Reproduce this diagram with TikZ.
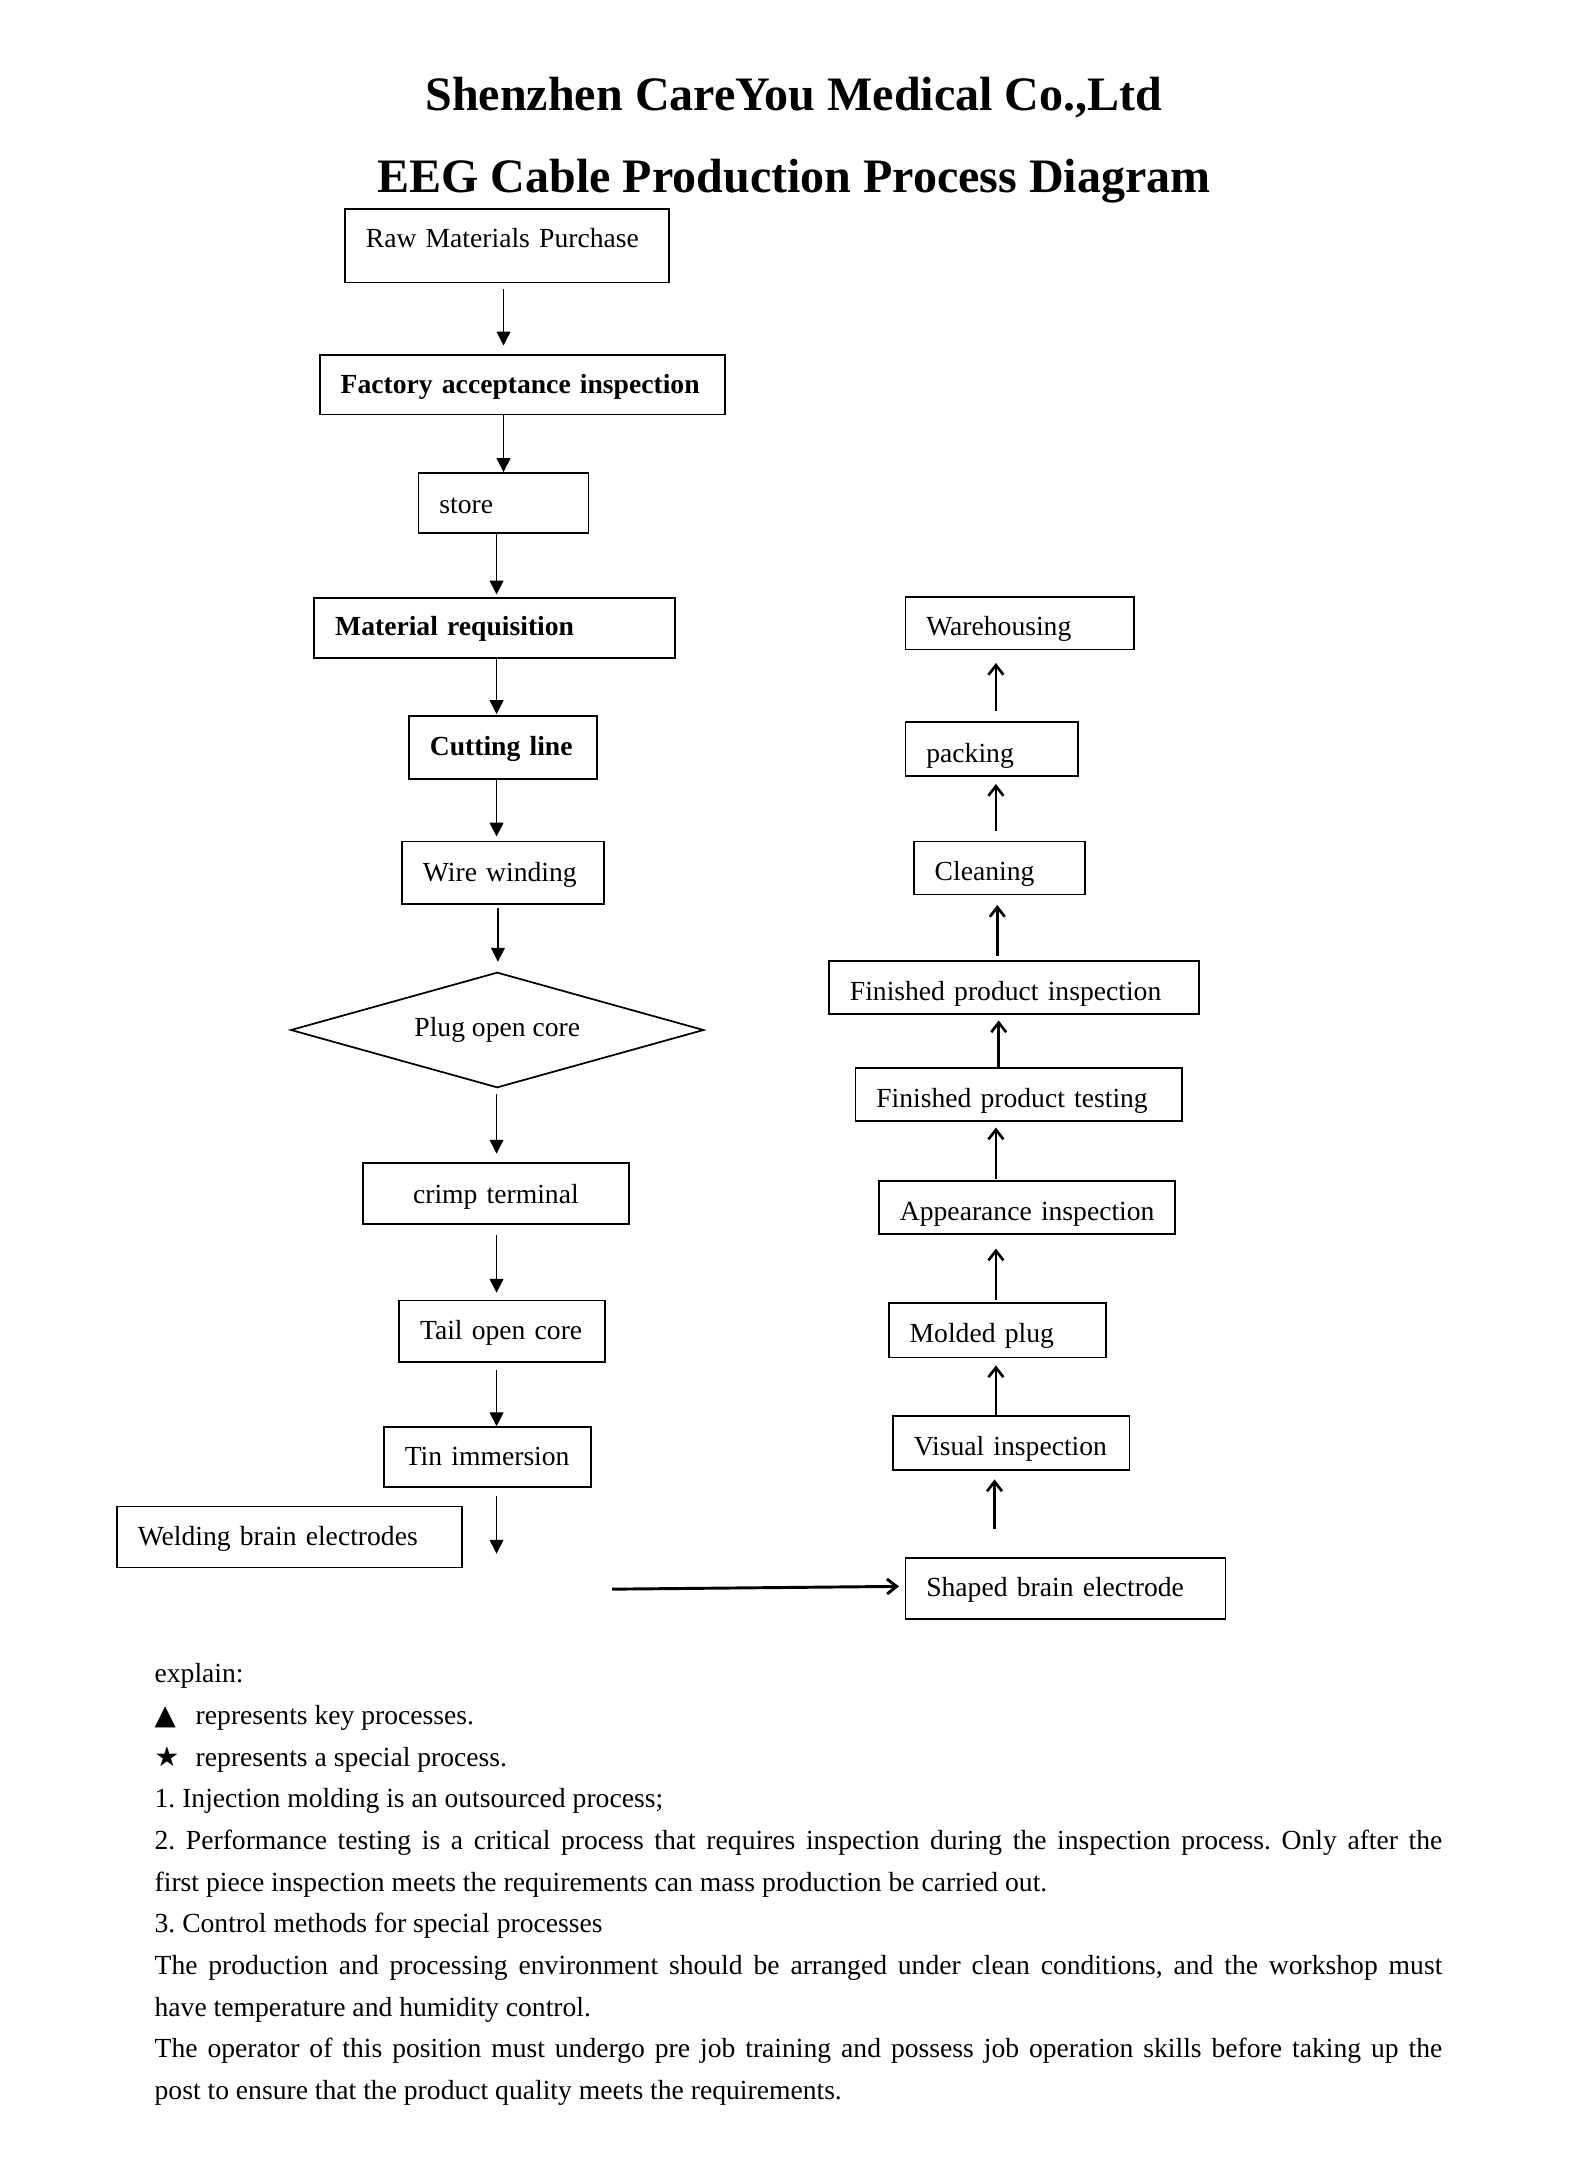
\documentclass[tikz,border=0pt]{standalone}
\usepackage{fontspec}
\setmainfont{Liberation Serif}
\newfontfamily\symfont{DejaVu Sans}
\usetikzlibrary{arrows.meta,shapes.geometric,calc}
\newcommand\bodyfnt{\fontsize{10.35pt}{12.4pt}\selectfont}
\newcommand\titlefnt{\fontsize{18pt}{21.6pt}\selectfont\bfseries}
\frenchspacing
\begin{document}
\frenchspacing
\begin{tikzpicture}[x=0.5213pt,y=-0.5213pt,
  bx/.style n args={4}{draw, line width=0.65pt, rectangle, inner xsep=7.82pt, inner ysep=0pt,
     minimum width=#1*0.5213pt, minimum height=#2*0.5213pt, text width=#3, text height=#4,
     text depth=2.3pt, align=left, font=\bodyfnt},
  dia/.style={draw, line width=0.65pt, diamond, shape aspect=3.58, inner sep=0pt,
     minimum width=297*0.5213pt, minimum height=83*0.5213pt, font=\bodyfnt},
  larr/.style={line width=0.45pt, -{Triangle[length=5.2pt,width=5.2pt]}},
  rarr/.style={line width=1pt, -{Straight Barb[length=3.6pt,width=5.6pt]}},
  harr/.style={line width=1.1pt, -{Straight Barb[length=3.6pt,width=5.6pt]}},
  ttl/.style={anchor=base, inner sep=0pt, font=\titlefnt},
  expl/.style={anchor=base west, inner sep=0pt, font=\bodyfnt}
]
\useasboundingbox (0,0) rectangle (1142,1568);
\fill[white] (0,0) rectangle (1142,1568);

% titles
\node[ttl] (t1) at (570.8,79.5) {Shenzhen CareYou Medical Co.,Ltd};
\node[ttl] (t2) at (570.8,138.5) {EEG Cable Production Process Diagram};

% left column
\node[bx={233}{53}{105.8pt}{3.8pt}] (raw) at (364.5,176.5) {\mbox{Raw Materials Purchase}};
\node[bx={291}{43}{136.1pt}{9.2pt}] (fac) at (375.5,276.5) {\mbox{\bfseries Factory acceptance inspection}};
\node[bx={122}{43}{48pt}{10.4pt}] (store) at (362,361.5) {\mbox{store}};
\node[bx={259}{43}{119.4pt}{8pt}] (mat) at (355.5,451.5) {\mbox{\bfseries Material requisition}};
\node[bx={135}{45}{54.7pt}{8pt}] (cut) at (361.5,537.5) {\mbox{\bfseries Cutting line}};
\node[bx={145}{45}{59.9pt}{9pt}] (wire) at (361.5,627.5) {\mbox{Wire winding}};
\node[dia] (plug) at (357.5,740.5) {Plug open core};
\node[bx={191}{44}{83.9pt}{9.6pt}, align=center] (crimp) at (356.5,858) {\mbox{crimp terminal}};
\node[bx={148}{44}{61.5pt}{8.6pt}] (tail) at (361,957) {\mbox{Tail open core}};
\node[bx={149}{43}{62pt}{9pt}] (tin) at (350.5,1047.5) {\mbox{Tin immersion}};
\node[bx={248}{44}{113.6pt}{8.6pt}] (weld) at (208,1105) {\mbox{Welding brain electrodes}};

% right column
\node[bx={164}{38}{69.9pt}{11.8pt}] (ware) at (733,448) {\mbox{Warehousing}};
\node[bx={124}{39}{49pt}{12.4pt}] (pack) at (713,538.5) {\mbox{packing}};
\node[bx={123}{38}{48.5pt}{11.8pt}] (clean) at (718.5,624) {\mbox{Cleaning}};
\node[bx={266}{38}{123pt}{11.8pt}] (fpi) at (729,710) {\mbox{Finished product inspection}};
\node[bx={235}{38}{106.9pt}{11.8pt}] (fpt) at (732.5,787) {\mbox{Finished product testing}};
\node[bx={213}{38}{95.4pt}{11.8pt}] (app) at (738.5,868) {\mbox{Appearance inspection}};
\node[bx={156}{39}{65.7pt}{11.4pt}] (mold) at (717,956.5) {\mbox{Molded plug}};
\node[bx={170}{39}{73pt}{11.4pt}] (vis) at (727,1037.5) {\mbox{Visual inspection}};
\node[bx={230}{44}{104.3pt}{8.6pt}] (shaped) at (766,1142) {\mbox{Shaped brain electrode}};

% left arrows
\draw[larr] ($(raw.south)+(-2.5,4)$) -- ($(fac.north)+(-13.5,-6)$);
\draw[larr] ($(fac.south)+(-13.5,0)$) -- ($(store.north)+(0,0)$);
\draw[larr] ($(store.south)+(-5,0)$) -- ($(mat.north)+(1.5,-2)$);
\draw[larr] ($(mat.south)+(1.5,0)$) -- ($(cut.north)+(-4.5,-1)$);
\draw[larr] ($(cut.south)+(-4.5,0)$) -- ($(wire.north)+(-4.5,-3)$);
\draw[larr] ($(wire.south)+(-3.5,2)$) -- ($(plug.north)+(0.5,-7)$);
\draw[larr] ($(plug.south)+(-0.5,4)$) -- ($(crimp.north)+(0.5,-6)$);
\draw[larr] ($(crimp.south)+(0.5,7)$) -- ($(tail.north)+(-4,-5)$);
\draw[larr] ($(tail.south)+(-4,5)$) -- ($(tin.north)+(6.5,0)$);
\coordinate (tinend) at (357,1117);
\draw[larr] ($(tin.south)+(6.5,6)$) -- (tinend);

% right arrows
\draw[rarr] ($(pack.north)+(3,-7)$) -- ($(ware.south)+(-17,9)$);
\draw[rarr] ($(clean.north)+(-2.5,-7)$) -- ($(pack.south)+(3,5)$);
\draw[rarr] ($(fpi.north)+(-12,-3)$) -- ($(clean.south)+(-1.5,7)$);
\draw[rarr] ($(fpt.north)+(-14.5,0)$) -- ($(fpi.south)+(-11,4)$);
\draw[rarr] ($(app.north)+(-22.5,-1)$) -- ($(fpt.south)+(-16.5,4)$);
\draw[rarr] ($(mold.north)+(-1,-2)$) -- ($(app.south)+(-22.5,10)$);
\draw[rarr] ($(vis.north)+(-11,0)$) -- ($(mold.south)+(-1,5)$);
\draw[rarr] ($(shaped.north)+(-51,-20)$) -- ($(vis.south)+(-12,6)$);

% horizontal arrow
\coordinate (hstart) at (440,1142.5);
\draw[harr] (hstart) -- ($(shaped.west)+(-4,-1.5)$);

% explanation
\node[expl] (e1) at (110.8,1209.7) {explain:};
\node[expl] (e2) at (110.8,1239.7) {\makebox[15.4pt][l]{\symfont ▲}represents key processes.};
\node[expl] (e3) at (110.8,1269.7) {\makebox[15.4pt][l]{\symfont ★}represents a special process.};
\node[expl] (e4) at (110.8,1299.6) {1. Injection molding is an outsourced process;};
\node[expl] (e5) at (110.8,1329.6) {\makebox[482.6pt][s]{2. Performance testing is a critical process that requires inspection during the inspection process. Only after the}};
\node[expl] (e6) at (110.8,1359.6) {first piece inspection meets the requirements can mass production be carried out.};
\node[expl] (e7) at (110.8,1389.6) {3. Control methods for special processes};
\node[expl] (e8) at (110.8,1419.6) {\makebox[482.6pt][s]{The production and processing environment should be arranged under clean conditions, and the workshop must}};
\node[expl] (e9) at (110.8,1449.5) {have temperature and humidity control.};
\node[expl] (e10) at (110.8,1479.5) {\makebox[482.6pt][s]{The operator of this position must undergo pre job training and possess job operation skills before taking up the}};
\node[expl] (e11) at (110.8,1509.5) {post to ensure that the product quality meets the requirements.};
\end{tikzpicture}
\end{document}
